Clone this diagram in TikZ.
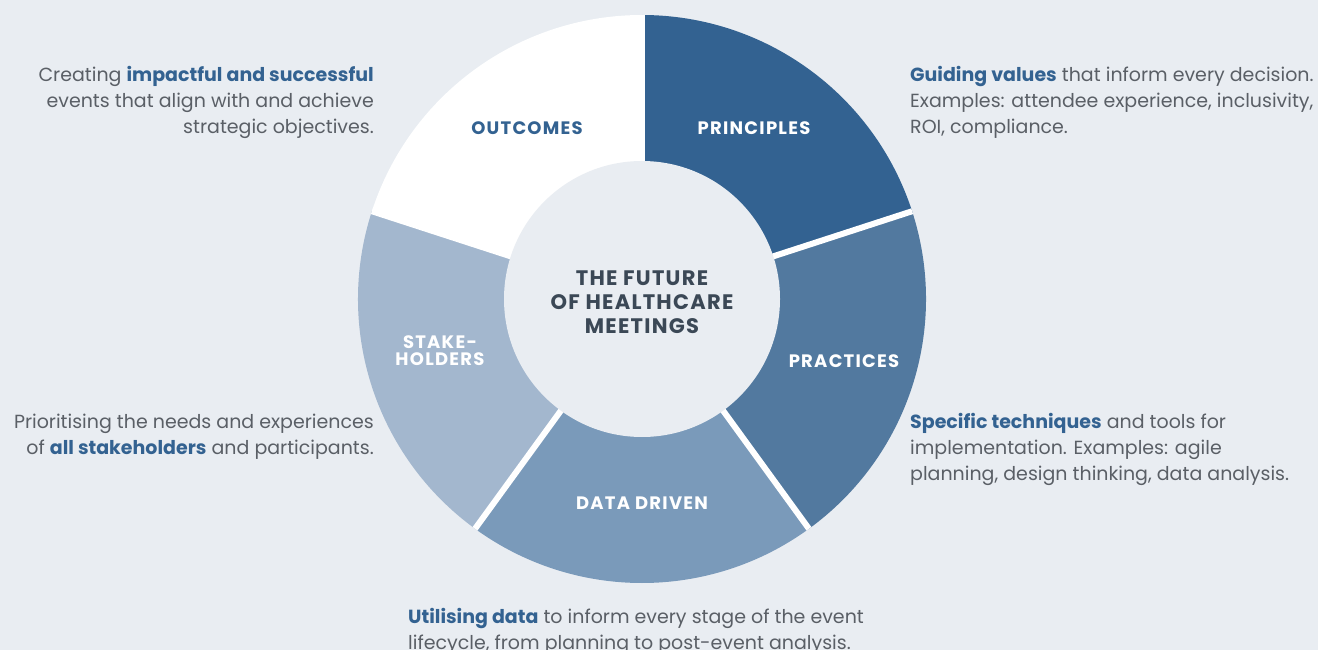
\documentclass[tikz,border=0pt]{standalone}
\usepackage{fontspec}
\setmainfont{Poppins}
\usepackage{tikz}
\usetikzlibrary{positioning}

\definecolor{bgcol}{HTML}{E9EDF2}
\definecolor{principlescol}{HTML}{336291}
\definecolor{practicescol}{HTML}{52799F}
\definecolor{datacol}{HTML}{7A9ABA}
\definecolor{stakecol}{HTML}{A3B7CE}
\definecolor{accent}{HTML}{336291}
\definecolor{bodytext}{HTML}{5A5F66}
\definecolor{titletext}{HTML}{3B4856}

\tikzset{
  segtext/.style={font=\fontsize{18}{17}\selectfont\bfseries\addfontfeature{LetterSpace=7}, color=white, align=center, inner sep=0pt},
  bodyleft/.style={font=\fontsize{19}{26}\selectfont, color=bodytext, align=left, anchor=north west, inner sep=0pt},
  bodyright/.style={font=\fontsize{19}{26}\selectfont, color=bodytext, align=right, anchor=north east, inner sep=0pt},
  gapline/.style={white, line width=6pt}
}
\newcommand{\hl}[1]{\textcolor{accent}{\textbf{#1}}}

\begin{document}
\begin{tikzpicture}[x=1pt, y=1pt]

\useasboundingbox (0,0) rectangle (1318,-650);
\fill[bgcol] (0,0) rectangle (1318,-650);

\coordinate (c) at (642,-299);

\fill[principlescol] (c) -- ++(18:284pt) arc[start angle=18, end angle=90, radius=284pt] -- cycle;
\fill[practicescol] (c) -- ++(-54:284pt) arc[start angle=-54, end angle=18, radius=284pt] -- cycle;
\fill[datacol] (c) -- ++(-126:284pt) arc[start angle=-126, end angle=-54, radius=284pt] -- cycle;
\fill[stakecol] (c) -- ++(162:284pt) arc[start angle=162, end angle=234, radius=284pt] -- cycle;
\fill[white] (c) -- ++(90:284pt) arc[start angle=90, end angle=162, radius=284pt] -- cycle;

\draw[gapline] (c) -- ++(90:284pt);
\draw[gapline] (c) -- ++(18:284pt);
\draw[gapline] (c) -- ++(-54:284pt);
\draw[gapline] (c) -- ++(-126:284pt);
\draw[gapline] (c) -- ++(162:284pt);

\fill[bgcol] (c) circle[radius=138pt];

\draw (642,-302) node (title) [font=\fontsize{21}{24}\selectfont\bfseries\addfontfeature{LetterSpace=6}, color=titletext, align=center, inner sep=0pt] {THE FUTURE\\OF HEALTHCARE\\MEETINGS};

\draw (754,-128) node (principles) [segtext] {PRINCIPLES};
\draw (844,-361) node (practices) [segtext] {PRACTICES};
\draw (642,-503) node (datadriven) [segtext] {DATA DRIVEN};
\draw (440,-351) node (stakeholders) [segtext] {STAKE-\\HOLDERS};
\draw (527,-128) node (outcomes) [segtext, color=accent] {OUTCOMES};

\draw (910,-66.5) node (principlesnote) [bodyleft] {\hl{Guiding values} that inform every decision.\\Examples: attendee experience, inclusivity,\\ROI, compliance.};
\draw (374,-66.5) node (outcomesnote) [bodyright] {Creating \hl{impactful and successful}\\events that align with and achieve\\strategic objectives.};
\draw (910,-413.5) node (practicesnote) [bodyleft] {\hl{Specific techniques} and tools for\\implementation. Examples: agile\\planning, design thinking, data analysis.};
\draw (374,-413.5) node (stakenote) [bodyright] {Prioritising the needs and experiences\\of \hl{all stakeholders} and participants.};
\draw (408,-608.5) node (datanote) [bodyleft] {\hl{Utilising data} to inform every stage of the event\\lifecycle, from planning to post-event analysis.};

\end{tikzpicture}
\end{document}
